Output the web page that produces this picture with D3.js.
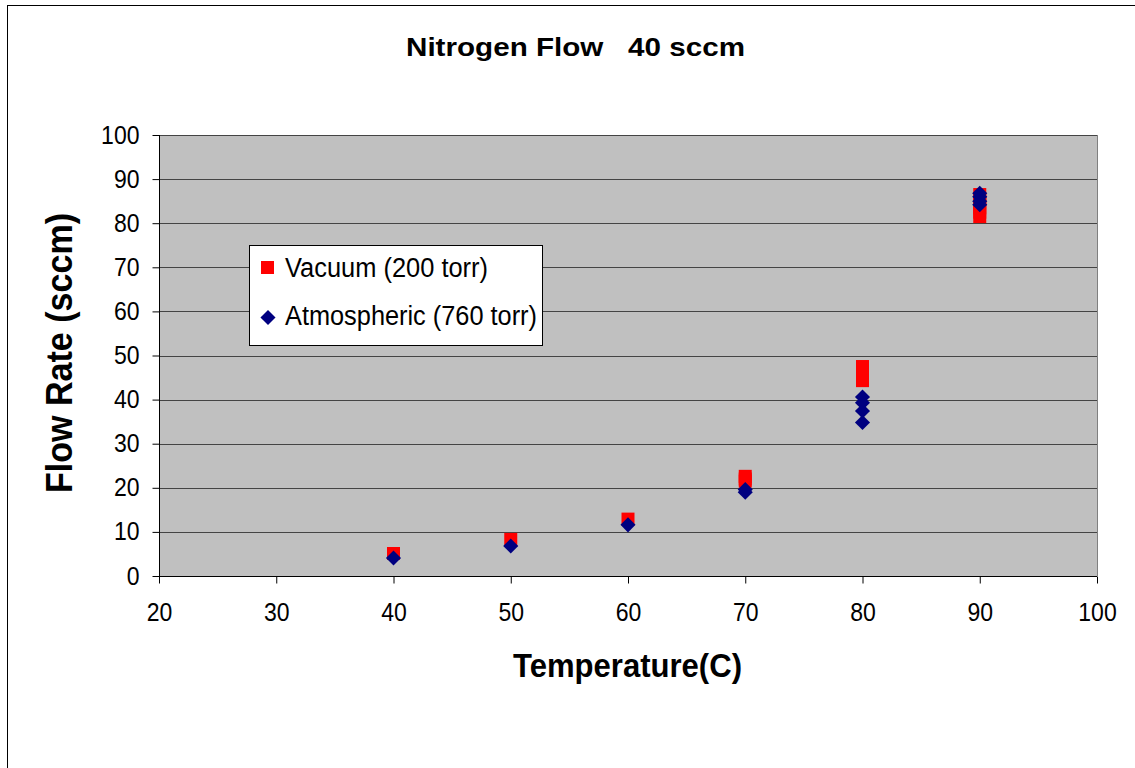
<!DOCTYPE html>
<html>
<head>
<meta charset="utf-8">
<script src="https://cdn.jsdelivr.net/npm/d3@7"></script>
<style>
  body { margin: 0; background: #fff; }
  text { font-family: "Liberation Sans", Arial, sans-serif; }
</style>
</head>
<body>
<script>
const width = 1135;
const height = 768;

// Vacuum (200 torr)
const vacTemp = [40, 50, 60, 70, 70, 70, 80, 80, 80, 80, 80, 90, 90, 90, 90, 90, 90];
const vacFlow = [5.1, 8.3, 12.9, 22.6, 22.0, 21.5, 47.5, 46.7, 45.8, 45.0, 44.3, 86.5, 85.5, 84.5, 83.5, 82.5, 81.5];

// Atmospheric (760 torr)
const atmTemp = [40, 50, 60, 70, 70, 80, 80, 80, 80, 90, 90, 90, 90];
const atmFlow = [4.1, 6.8, 11.6, 19.6, 19.0, 40.6, 39.3, 37.4, 34.8, 86.8, 86.0, 85.0, 84.2];

const xTicks = [20, 30, 40, 50, 60, 70, 80, 90, 100];
const yTicks = [0, 10, 20, 30, 40, 50, 60, 70, 80, 90, 100];

const vacuum = vacTemp.map((t, i) => ({ t, v: vacFlow[i] }));
const atmos = atmTemp.map((t, i) => ({ t, v: atmFlow[i] }));

const pLeft = 159, pRight = 1097, pTop = 135, pBottom = 576;

const x = d3.scaleLinear().domain([20, 100]).range([pLeft, pRight]);
const y = d3.scaleLinear().domain([0, 100]).range([pBottom, pTop]);

const svg = d3.select('body').append('svg')
    .attr('width', width)
    .attr('height', height);

// cadre extérieur
svg.append('rect')
    .attr('x', 7.5).attr('y', 5.5)
    .attr('width', width + 10).attr('height', height + 10)
    .attr('fill', '#fff')
    .attr('stroke', '#000')
    .attr('stroke-width', 1);

// zone de tracé
svg.append('rect')
    .attr('x', pLeft).attr('y', pTop)
    .attr('width', pRight - pLeft).attr('height', pBottom - pTop)
    .attr('fill', '#c0c0c0');

// grille horizontale
svg.append('g')
    .selectAll('line')
    .data(yTicks.filter(d => d > 0))
    .enter()
    .append('line')
    .attr('x1', pLeft).attr('x2', pRight)
    .attr('y1', d => Math.round(y(d)) + 0.5)
    .attr('y2', d => Math.round(y(d)) + 0.5)
    .attr('stroke', '#444')
    .attr('stroke-width', 1);

// bord droit du tracé
svg.append('line')
    .attr('x1', pRight + 0.5).attr('x2', pRight + 0.5)
    .attr('y1', pTop).attr('y2', pBottom)
    .attr('stroke', '#808080');

// axes
const yAxis = d3.axisLeft(y).tickValues(yTicks).tickSize(7).tickPadding(13).tickFormat(d3.format('d'));
const xAxis = d3.axisBottom(x).tickValues(xTicks).tickSize(7).tickPadding(20).tickFormat(d3.format('d'));

const gy = svg.append('g')
    .attr('transform', `translate(${pLeft + 0.5},0)`)
    .call(yAxis);
const gx = svg.append('g')
    .attr('transform', `translate(0,${pBottom + 0.5})`)
    .call(xAxis);

gx.select('.domain').attr('d', `M${pLeft},0H${pRight}`);
gy.select('.domain').attr('d', `M0,${pBottom}V${pTop}`);
[gx, gy].forEach(g => {
    g.select('.domain').attr('stroke', '#000');
    g.selectAll('.tick line').attr('stroke', '#000');
    g.selectAll('.tick text')
        .attr('fill', '#000')
        .attr('textLength', d => String(d).length * 12.8)
        .attr('lengthAdjust', 'spacingAndGlyphs')
        .style('font-family', '"Liberation Sans", Arial, sans-serif')
        .style('font-size', '25px');
});

// points : vide (carrés rouges)
const SQ = 13;
svg.append('g')
    .selectAll('rect')
    .data(vacuum)
    .enter()
    .append('rect')
    .attr('x', d => x(d.t) - SQ / 2)
    .attr('y', d => y(d.v) - SQ / 2)
    .attr('width', SQ)
    .attr('height', SQ)
    .attr('fill', '#ff0000');

// points : atmosphérique (losanges bleus)
const diamond = d3.symbol().type(d3.symbolDiamond2).size(145);
svg.append('g')
    .selectAll('path')
    .data(atmos)
    .enter()
    .append('path')
    .attr('transform', d => `translate(${x(d.t)},${y(d.v)})`)
    .attr('d', diamond)
    .attr('fill', '#000080');

// titres
svg.append('text')
    .attr('x', 406).attr('y', 56)
    .attr('textLength', 339)
    .attr('lengthAdjust', 'spacingAndGlyphs')
    .style('font-size', '26px')
    .style('font-weight', 'bold')
    .style('white-space', 'pre')
    .text('Nitrogen Flow   40 sccm');

svg.append('text')
    .attr('x', 513).attr('y', 677)
    .attr('textLength', 229)
    .attr('lengthAdjust', 'spacingAndGlyphs')
    .style('font-size', '33px')
    .style('font-weight', 'bold')
    .text('Temperature(C)');

svg.append('text')
    .attr('transform', 'translate(72,493) rotate(-90)')
    .attr('textLength', 280)
    .attr('lengthAdjust', 'spacingAndGlyphs')
    .style('font-size', '37px')
    .style('font-weight', 'bold')
    .text('Flow Rate (sccm)');

// légende
const legend = svg.append('g');
legend.append('rect')
    .attr('x', 249.5).attr('y', 245.5)
    .attr('width', 293).attr('height', 100)
    .attr('fill', '#fff')
    .attr('stroke', '#000');

legend.append('rect')
    .attr('x', 261).attr('y', 261)
    .attr('width', 13).attr('height', 13)
    .attr('fill', '#ff0000');
legend.append('path')
    .attr('transform', 'translate(268,317.5)')
    .attr('d', diamond)
    .attr('fill', '#000080');

const legendItems = ['Vacuum (200 torr)', 'Atmospheric (760 torr)'];
const legendWidths = [203, 252];
legend.selectAll('text')
    .data(legendItems)
    .enter()
    .append('text')
    .attr('x', 285)
    .attr('y', (d, i) => 277 + i * 48)
    .attr('textLength', (d, i) => legendWidths[i])
    .attr('lengthAdjust', 'spacingAndGlyphs')
    .style('font-size', '27px')
    .text(d => d);
</script>
</body>
</html>
